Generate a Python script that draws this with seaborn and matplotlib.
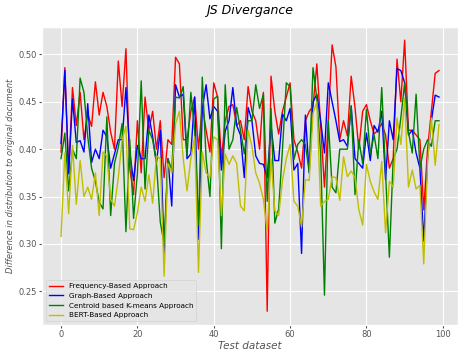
import numpy as np
import pandas as pd
import matplotlib
matplotlib.use('Agg')
import matplotlib.pyplot as plt
import seaborn as sns

# JS divergence per test document, one list per approach
frequency_based = [
    0.397, 0.486, 0.375, 0.465, 0.425, 0.46, 0.41, 0.437, 0.424, 0.471,
    0.436, 0.46, 0.445, 0.418, 0.40, 0.493, 0.445, 0.506, 0.38, 0.352,
    0.43, 0.375, 0.455, 0.42, 0.44, 0.40, 0.43, 0.37, 0.41, 0.405,
    0.497, 0.49, 0.41, 0.41, 0.44, 0.455, 0.40, 0.445, 0.42, 0.397,
    0.47, 0.455, 0.39, 0.43, 0.445, 0.447, 0.425, 0.43, 0.41, 0.466,
    0.44, 0.43, 0.40, 0.46, 0.229, 0.477, 0.44, 0.416, 0.44, 0.455,
    0.47, 0.41, 0.397, 0.38, 0.43, 0.44, 0.445, 0.49, 0.425, 0.36,
    0.43, 0.51, 0.487, 0.41, 0.43, 0.414, 0.477, 0.444, 0.40, 0.44,
    0.447, 0.43, 0.416, 0.42, 0.427, 0.415, 0.38, 0.39, 0.495, 0.45,
    0.515, 0.42, 0.42, 0.415, 0.41, 0.336, 0.40, 0.44, 0.48, 0.483,
]
graph_based = [
    0.406, 0.483, 0.374, 0.453, 0.407, 0.409, 0.397, 0.448, 0.386, 0.40,
    0.39, 0.42, 0.413, 0.38, 0.395, 0.41, 0.41, 0.465, 0.396, 0.367,
    0.404, 0.39, 0.39, 0.436, 0.413, 0.386, 0.42, 0.29, 0.39, 0.34,
    0.468, 0.455, 0.458, 0.39, 0.395, 0.455, 0.305, 0.443, 0.468, 0.432,
    0.445, 0.44, 0.378, 0.419, 0.43, 0.465, 0.425, 0.415, 0.37, 0.444,
    0.43, 0.393, 0.385, 0.384, 0.37, 0.425, 0.388, 0.388, 0.437, 0.43,
    0.443, 0.378, 0.385, 0.29, 0.436, 0.375, 0.45, 0.458, 0.43, 0.396,
    0.47, 0.45, 0.43, 0.408, 0.41, 0.403, 0.445, 0.39, 0.385, 0.38,
    0.417, 0.388, 0.425, 0.418, 0.44, 0.368, 0.43, 0.41, 0.485, 0.483,
    0.47, 0.415, 0.42, 0.396, 0.38, 0.303, 0.39, 0.43, 0.457, 0.455,
]
centroid_kmeans = [
    0.39, 0.417, 0.356, 0.40, 0.39, 0.475, 0.46, 0.413, 0.38, 0.366,
    0.344, 0.337, 0.434, 0.33, 0.385, 0.402, 0.427, 0.313, 0.41, 0.327,
    0.374, 0.472, 0.358, 0.42, 0.41, 0.385, 0.323, 0.30, 0.39, 0.378,
    0.455, 0.454, 0.466, 0.393, 0.46, 0.42, 0.32, 0.476, 0.39, 0.35,
    0.453, 0.456, 0.295, 0.468, 0.40, 0.41, 0.444, 0.42, 0.395, 0.43,
    0.43, 0.468, 0.443, 0.458, 0.345, 0.443, 0.322, 0.337, 0.40, 0.47,
    0.466, 0.389, 0.405, 0.41, 0.405, 0.376, 0.486, 0.453, 0.395, 0.246,
    0.43, 0.36, 0.354, 0.40, 0.40, 0.40, 0.446, 0.352, 0.41, 0.385,
    0.442, 0.395, 0.415, 0.39, 0.465, 0.375, 0.286, 0.39, 0.40, 0.433,
    0.47, 0.418, 0.396, 0.458, 0.38, 0.40, 0.41, 0.403, 0.43, 0.43,
]
bert_based = [
    0.308, 0.396, 0.332, 0.404, 0.342, 0.388, 0.35, 0.36, 0.347, 0.375,
    0.33, 0.397, 0.393, 0.347, 0.34, 0.37, 0.41, 0.424, 0.316, 0.315,
    0.333, 0.36, 0.345, 0.373, 0.343, 0.393, 0.39, 0.266, 0.385, 0.375,
    0.427, 0.44, 0.39, 0.356, 0.39, 0.413, 0.27, 0.397, 0.375, 0.37,
    0.413, 0.41, 0.33, 0.395, 0.384, 0.393, 0.385, 0.34, 0.335, 0.42,
    0.403, 0.375, 0.364, 0.347, 0.313, 0.39, 0.335, 0.33, 0.367, 0.39,
    0.405, 0.345, 0.34, 0.318, 0.368, 0.367, 0.438, 0.45, 0.34, 0.345,
    0.347, 0.371, 0.37, 0.346, 0.392, 0.371, 0.377, 0.37, 0.336, 0.32,
    0.384, 0.366, 0.355, 0.347, 0.387, 0.312, 0.366, 0.36, 0.433, 0.405,
    0.454, 0.36, 0.378, 0.358, 0.362, 0.279, 0.387, 0.433, 0.383, 0.426,
]

labels = ['Frequency-Based Approach', 'Graph-Based Approach',
          'Centroid based K-means Approach', 'BERT-Based Approach']
colors = ['r', 'b', 'g', 'y']
series = [frequency_based, graph_based, centroid_kmeans, bert_based]
test_ids = np.arange(len(frequency_based))

plt.style.use('ggplot')
fig = plt.figure(figsize=(4.63, 3.55), dpi=100)
ax = fig.add_axes([0.091, 0.085, 0.898, 0.84])

for vals, lab, col in zip(series, labels, colors):
    sns.lineplot(x=test_ids, y=vals, color=col, label=lab, linewidth=1, ax=ax)

ax.set_title('JS Divergance', fontsize=9, style='italic', pad=9)
ax.set_xlabel('Test dataset', fontsize=7.5, style='italic', labelpad=1.5)
ax.set_ylabel('Difference in distribution to original document', fontsize=6, style='italic', labelpad=3)
ax.tick_params(labelsize=6, length=2, pad=1.5)
ax.legend(loc='lower left', fontsize=5.2, handlelength=2.0)

fig.savefig('out.png', dpi=100)
